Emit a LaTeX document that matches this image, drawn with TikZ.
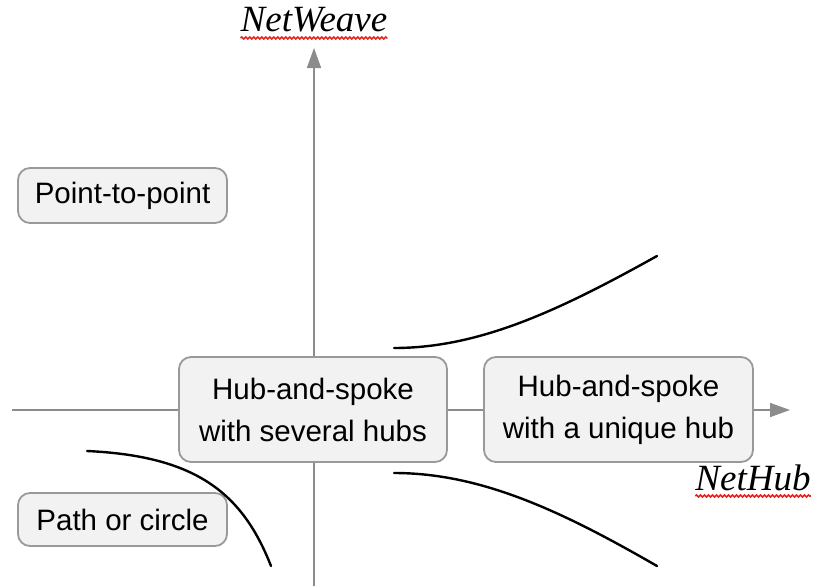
\documentclass[tikz,border=0pt]{standalone}
\usepackage{fontspec}
\setmainfont{Liberation Sans}
\newfontfamily\serifit{Liberation Serif}
\usetikzlibrary{arrows.meta,decorations.pathmorphing}
\definecolor{axisgray}{HTML}{8C8C8C}
\definecolor{boxbg}{HTML}{F2F2F2}
\definecolor{boxline}{HTML}{999999}
\definecolor{squig}{HTML}{E8231E}
\tikzset{
  axisl/.style={draw=axisgray, line width=1.6pt, -{Triangle[length=20pt,width=14pt]}},
  box/.style={draw=boxline, fill=boxbg, line width=1.8pt, rounded corners=12pt, align=center,
    font=\fontsize{29.5}{42}\selectfont, inner sep=0pt, text=black},
  curve/.style={draw=black, line width=2.4pt, line cap=round},
  axlab/.style={font=\fontsize{37}{40}\serifit\itshape, inner sep=0pt, anchor=base},
  squiggle/.style={draw=squig, line width=1.6pt, decorate,
    decoration={snake, amplitude=1pt, segment length=4pt}},
}
\begin{document}
\begin{tikzpicture}[x=1pt, y=-1pt]
  \useasboundingbox (0,0) rectangle (813,586);
  \coordinate (xs) at (12,410);
  \coordinate (xe) at (790,410);
  \coordinate (ys) at (314,586);
  \coordinate (ye) at (314,48);

  \draw[axisl] (xs) -- (xe);
  \draw[axisl] (ys) -- (ye);

  \node[axlab] (weave) at (314,32) {NetWeave};
  \node[axlab] (hub) at (753,490) {NetHub};
  \draw[squiggle] ([yshift=-6pt]weave.base west) -- ([yshift=-6pt]weave.base east);
  \draw[squiggle] ([yshift=-6pt]hub.base west) -- ([yshift=-6pt]hub.base east);

  \node[box, minimum width=209pt, minimum height=55pt] (ptp) at (122.5,195.5) {Point-to-point};
  \node[box, minimum width=209pt, minimum height=53pt] (poc) at (122.5,519.5) {Path or circle};
  \node[box, minimum width=268pt, minimum height=105pt] (several) at (313,409.5) {Hub-and-spoke\\with several hubs};
  \node[box, minimum width=269pt, minimum height=105pt] (unique) at (618.5,409.5) {Hub-and-spoke\\with a unique hub};

  \draw[curve] (394,348) .. controls (480,348) and (560,310) .. (657,256); % upper
  \draw[curve] (394,473) .. controls (480,473) and (560,510) .. (657,566); % lower
  \draw[curve] (87,451) .. controls (195,456) and (242,492) .. (271,566); % left
\end{tikzpicture}
\end{document}
